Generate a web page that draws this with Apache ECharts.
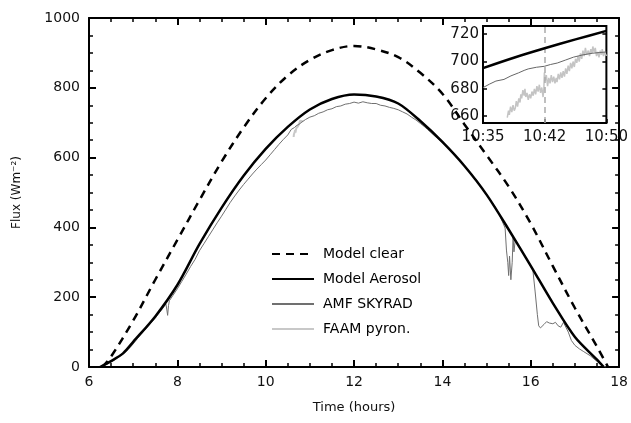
<!DOCTYPE html>
<html><head><meta charset="utf-8">
<script src="https://cdn.jsdelivr.net/npm/echarts@6/dist/echarts.min.js"></script>
<style>html,body{margin:0;padding:0;background:#fff}#c{width:631px;height:423px}</style>
</head><body><div id="c"></div>
<script>
// ---- data (hours, W m-2) ----
const modelClear = [[6.3,0],[6.5,30],[7.0,133],[7.5,250],[8.0,364],[8.5,478],[9.0,588],[9.5,686],[10.0,770],[10.5,835],[11.0,880],[11.5,908],[12.0,920],[12.5,910],[13.0,888],[13.5,843],[14.0,783],[14.5,695],[15.0,607],[15.5,517],[16.0,411],[16.5,289],[17.0,169],[17.5,58],[17.75,0]];
const modelAerosol = [[6.25,0],[6.5,17],[6.77,39],[7.0,72],[7.5,145],[8.0,235],[8.5,352],[9.0,456],[9.5,548],[10.0,625],[10.5,688],[11.0,738],[11.5,768],[12.0,781],[12.5,775],[13.0,755],[13.5,705],[14.0,645],[14.5,576],[15.0,494],[15.5,394],[16.0,290],[16.5,183],[17.0,86],[17.5,21],[17.65,0]];
const amfSkyrad = [[6.25,1],[6.35,5],[6.45,11],[6.55,18],[6.65,26],[6.77,37],[6.9,52],[7.0,66],[7.1,82],[7.25,104],[7.4,126],[7.5,140],[7.6,157],[7.7,173],[7.74,181],[7.76,166],[7.78,148],[7.80,176],[7.82,190],[7.9,205],[8.0,224],[8.1,245],[8.2,266],[8.3,288],[8.4,308],[8.5,333],[8.6,353],[8.7,373],[8.8,393],[8.9,413],[9.0,432],[9.1,452],[9.2,472],[9.3,490],[9.4,507],[9.5,523],[9.6,538],[9.7,553],[9.8,567],[9.9,580],[10.0,593],[10.1,608],[10.2,623],[10.3,638],[10.4,652],[10.5,665],[10.58,681],[10.65,686],[10.7,692],[10.75,695],[10.8,700],[10.83,705],[10.9,709],[11.0,716],[11.1,720],[11.2,727],[11.3,731],[11.4,737],[11.5,740],[11.6,746],[11.7,748],[11.8,753],[11.9,755],[12.0,759],[12.1,756],[12.2,760],[12.3,757],[12.4,755],[12.5,755],[12.6,750],[12.7,748],[12.8,744],[12.9,741],[13.0,737],[13.1,731],[13.2,725],[13.3,716],[13.4,708],[13.5,698],[13.6,688],[13.66,681],[13.8,665],[13.9,654],[14.0,643],[14.1,630],[14.2,618],[14.3,603],[14.4,591],[14.5,575],[14.6,563],[14.7,546],[14.8,531],[14.9,511],[15.0,492],[15.1,476],[15.2,458],[15.3,434],[15.42,398],[15.45,335],[15.48,300],[15.5,262],[15.52,318],[15.55,250],[15.58,300],[15.6,372],[15.62,330],[15.65,365],[15.7,352],[15.8,332],[15.9,310],[16.0,289],[16.05,276],[16.1,215],[16.15,150],[16.18,118],[16.22,112],[16.3,122],[16.36,130],[16.42,126],[16.5,124],[16.56,128],[16.62,118],[16.68,114],[16.74,128],[16.78,128],[16.85,100],[16.92,76],[17.0,62],[17.1,52],[17.2,44],[17.35,32],[17.5,16],[17.6,6],[17.7,0]];
// inset: minutes after 10:35
const faamInset = [[2.95,659],[3.1,664],[3.2,661],[3.35,667],[3.5,663],[3.65,668],[3.8,664],[3.93,666],[4.05,671],[4.2,667],[4.35,673],[4.5,670],[4.6,676],[4.7,673],[4.85,679],[5.0,675],[5.1,680],[5.2,674],[5.35,677],[5.5,672],[5.65,676],[5.8,673],[5.95,678],[6.1,675],[6.25,680],[6.4,676],[6.55,682],[6.7,678],[6.85,683],[7.0,677],[7.15,681],[7.3,674],[7.4,680],[7.46,692],[7.55,686],[7.7,690],[7.85,682],[8.0,688],[8.15,684],[8.3,690],[8.45,685],[8.6,689],[8.75,684],[8.9,688],[9.0,685],[9.15,691],[9.3,687],[9.45,692],[9.6,688],[9.75,693],[9.9,689],[10.05,695],[10.2,691],[10.35,697],[10.5,693],[10.65,699],[10.8,695],[10.95,700],[11.1,696],[11.25,702],[11.4,699],[11.55,704],[11.7,700],[11.85,706],[12.0,702],[12.15,708],[12.3,704],[12.45,710],[12.6,705],[12.8,708],[12.95,704],[13.1,709],[13.25,706],[13.35,711],[13.5,707],[13.65,710],[13.8,704],[13.95,707],[14.1,703],[14.25,708],[14.4,705],[14.5,709],[14.65,704],[14.8,707],[15.0,704]];
const insetAerosol = [[0,695.2],[3.75,702.8],[7.5,709.7],[11.25,716.2],[15,722.4]];
const insetSkyrad = [[0,680.9],[0.8,683.5],[1.57,685.7],[2.55,686.9],[3.4,689.5],[4.32,691.7],[5.0,693.5],[5.5,694.6],[6.5,695.8],[7.46,696.5],[8.2,697.8],[9.03,698.9],[10.0,701],[11.0,703.2],[12.17,704.9],[13.35,706.1],[14.2,706.6],[15,707]];
const mainXTicks = {min:6, max:18, interval:2};
const mainYTicks = {min:0, max:1000, interval:200};
const insetXTickValues = [0, 7.5, 15];
const insetXTickLabels = ['10:35','10:42','10:50'];
const insetYTickValues = [660, 680, 700, 720];
const insetMarker = 7.5;
const names = ['Model clear','Model Aerosol','AMF SKYRAD','FAAM pyron.'];

const faamMain = faamInset.map(([m,v]) => [10 + (35 + m) / 60, v]);

const F = 'DejaVu Sans';
const chart = echarts.init(document.getElementById('c'), null, {renderer:'canvas'});
const axLine = {show:true, onZero:false, lineStyle:{color:'#000', width:2}};
const tick = {show:true, inside:true, length:7, lineStyle:{color:'#000', width:2}};
const minor = {show:true, splitNumber:4, length:4, lineStyle:{color:'#000', width:1.5}};
const lbl = {fontFamily:F, fontSize:14, color:'#111', formatter:(v)=>String(v)};

chart.setOption({
  animation:false,
  backgroundColor:'#fff',
  grid:[
    {left:89, top:18, width:534, height:349},
    {left:483, top:26, width:128, height:97, show:true, borderColor:'#000', borderWidth:2, backgroundColor:'#fff'}
  ],
  legend:{
    data:names, orient:'vertical', left:266, top:242, itemWidth:42, itemHeight:12, itemGap:11,
    itemStyle:{opacity:0},
    textStyle:{fontFamily:F, fontSize:14, color:'#000', padding:[0,0,0,4]}
  },
  xAxis:[
    {gridIndex:0, type:'value', ...mainXTicks, position:'bottom', axisLine:axLine, axisTick:tick, minorTick:minor,
     splitLine:{show:false}, axisLabel:{...lbl, margin:8},
     name:'Time (hours)', nameLocation:'middle', nameGap:34, nameTextStyle:{fontFamily:F, fontSize:13, color:'#111'}},
    {gridIndex:0, type:'value', ...mainXTicks, position:'top', axisLine:axLine, axisTick:tick, minorTick:minor,
     splitLine:{show:false}, axisLabel:{show:false}},
    {gridIndex:1, type:'value', min:0, max:15, position:'bottom', axisLine:{show:false},
     axisTick:{show:true, inside:true, length:4, customValues:insetXTickValues, lineStyle:{color:'#000', width:1.5}},
     splitLine:{show:false},
     axisLabel:{...lbl, fontSize:15, margin:7, customValues:insetXTickValues,
       formatter:(v)=>insetXTickLabels[insetXTickValues.indexOf(v)] || ''}}
  ],
  yAxis:[
    {gridIndex:0, type:'value', ...mainYTicks, position:'left', axisLine:axLine, axisTick:tick, minorTick:minor,
     splitLine:{show:false}, axisLabel:{...lbl, margin:9},
     name:'Flux (Wm⁻²)', nameLocation:'middle', nameGap:66, nameTextStyle:{fontFamily:F, fontSize:12, color:'#111'}},
    {gridIndex:0, type:'value', ...mainYTicks, position:'right', axisLine:axLine, axisTick:tick, minorTick:minor,
     splitLine:{show:false}, axisLabel:{show:false}},
    {gridIndex:1, type:'value', min:655, max:726, position:'left', axisLine:{show:false},
     axisTick:{show:true, inside:true, length:4, customValues:insetYTickValues, lineStyle:{color:'#000', width:1.5}},
     splitLine:{show:false}, axisLabel:{...lbl, fontSize:15, margin:4, customValues:insetYTickValues}},
    {gridIndex:1, type:'value', min:655, max:726, position:'right', axisLine:{show:false},
     axisTick:{show:true, inside:true, length:4, customValues:insetYTickValues, lineStyle:{color:'#000', width:1.5}},
     splitLine:{show:false}, axisLabel:{show:false}}
  ],
  series:[
    {name:names[0], type:'line', xAxisIndex:0, yAxisIndex:0, data:modelClear, symbol:'none', smooth:0.35, z:4,
     lineStyle:{color:'#000', width:2.5, type:[8,6]}, itemStyle:{color:'#000'}},
    {name:names[1], type:'line', xAxisIndex:0, yAxisIndex:0, data:modelAerosol, symbol:'none', smooth:0.3, z:4,
     lineStyle:{color:'#000', width:2.5}, itemStyle:{color:'#000'}},
    {name:names[2], type:'line', xAxisIndex:0, yAxisIndex:0, data:amfSkyrad, symbol:'none', z:3,
     lineStyle:{color:'#707070', width:1}, itemStyle:{color:'#707070'}},
    {name:names[3], type:'line', xAxisIndex:0, yAxisIndex:0, data:faamMain, symbol:'none', z:2,
     lineStyle:{color:'#c8c8c8', width:2}, itemStyle:{color:'#c8c8c8'}},
    {name:'inset-faam', type:'line', xAxisIndex:2, yAxisIndex:2, data:faamInset, symbol:'none', z:3,
     lineStyle:{color:'#c4c4c4', width:1.5},
     markLine:{silent:true, symbol:'none', label:{show:false},
       lineStyle:{color:'#aaa', type:[6,4], width:1.5}, data:[{xAxis:insetMarker}]}},
    {name:'inset-skyrad', type:'line', xAxisIndex:2, yAxisIndex:2, data:insetSkyrad, symbol:'none', z:4,
     lineStyle:{color:'#666', width:1}},
    {name:'inset-aerosol', type:'line', xAxisIndex:2, yAxisIndex:2, data:insetAerosol, symbol:'none', smooth:0.3, z:5,
     lineStyle:{color:'#000', width:2.5}}
  ]
});
</script></body></html>
